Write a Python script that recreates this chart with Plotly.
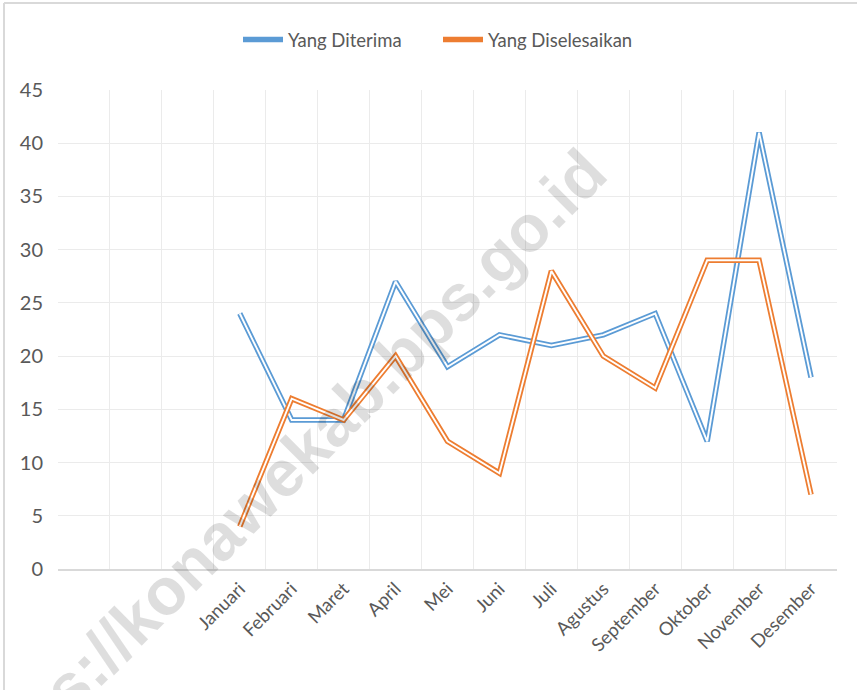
import plotly.graph_objects as go

blanks = [" ", "  ", "   "]
months = ["Januari", "Februari", "Maret", "April", "Mei", "Juni", "Juli",
          "Agustus", "September", "Oktober", "November", "Desember"]
diterima = [24, 14, 14, 27, 19, 22, 21, 22, 24, 12, 41, 18]
diselesaikan = [4, 16, 14, 20, 12, 9, 28, 20, 17, 29, 29, 7]

W, H = 857, 690
ML, MR, MT, MB = 58, 20, 90, 121
PW, PH = W - ML - MR, H - MT - MB

BLUE = "#5B9BD5"
ORANGE = "#ED7D31"
FONT = "Lato"
TXT = "#595959"

fig = go.Figure()
for name, vals, col in [("Yang Diterima", diterima, BLUE),
                        ("Yang Diselesaikan", diselesaikan, ORANGE)]:
    fig.add_trace(go.Scatter(x=months, y=vals, mode="lines", name=name,
                             legendgroup=name,
                             line=dict(color=col, width=5.5)))
    fig.add_trace(go.Scatter(x=months, y=vals, mode="lines", name=name,
                             legendgroup=name, showlegend=False, hoverinfo="skip",
                             line=dict(color="white", width=1.9)))

# pixel -> paper coords
px2x = lambda p: (p - ML) / PW
px2y = lambda p: 1 - (p - MT) / PH

fig.update_layout(
    width=W, height=H,
    margin=dict(l=ML, r=MR, t=MT, b=MB),
    paper_bgcolor="white", plot_bgcolor="white",
    font=dict(family=FONT, color=TXT),
    showlegend=True,
    legend=dict(orientation="h", x=px2x(438), xanchor="center", y=px2y(40), yanchor="middle",
                font=dict(size=18.5, color=TXT), itemwidth=40, entrywidth=145,
                tracegroupgap=0),
    xaxis=dict(type="category", categoryorder="array", categoryarray=blanks + months,
               range=[-0.5, len(blanks) + len(months) - 0.5],
               tickson="boundaries", ticks="", showgrid=True, gridcolor="#ebebeb", gridwidth=1,
               showline=True, linecolor="#d9d9d9", linewidth=1.5,
               tickangle=-45, tickfont=dict(size=18.5, color=TXT, family=FONT)),
    yaxis=dict(range=[0, 45], dtick=5, tick0=0, showgrid=True, gridcolor="#ebebeb",
               zeroline=False, showline=False, ticks="", ticklabelstandoff=14,
               tickfont=dict(size=20, color=TXT, family=FONT)),
    shapes=[
        dict(type="line", xref="paper", yref="paper", x0=px2x(4), x1=px2x(4),
             y0=px2y(3), y1=px2y(700), line=dict(color="#d9d9d9", width=2)),
        dict(type="line", xref="paper", yref="paper", x0=px2x(4), x1=px2x(870),
             y0=px2y(3), y1=px2y(3), line=dict(color="#d9d9d9", width=2)),
    ],
    annotations=[
        dict(text="<b>https://konawekab.bps.go.id</b>", xref="paper", yref="paper",
             x=px2x(280), y=px2y(475), showarrow=False, textangle=-45,
             font=dict(size=66, color="rgba(0,0,0,0.13)", family="Liberation Sans"),
             xanchor="center", yanchor="middle")
    ],
)

fig.write_html("out.html", config={"displayModeBar": False},
               post_script="document.body.style.margin='0';document.body.style.overflow='hidden';")
